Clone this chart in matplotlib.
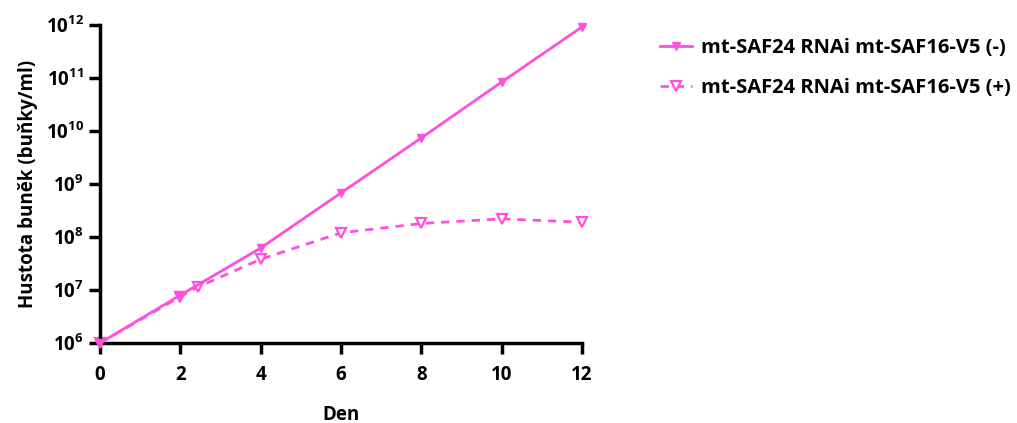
import matplotlib
matplotlib.use("Agg")
import matplotlib.pyplot as plt
from matplotlib.ticker import FixedLocator, NullLocator

plt.rcParams['font.family'] = ['Open Sans', 'DejaVu Sans']
plt.rcParams['mathtext.fontset'] = 'custom'
plt.rcParams['mathtext.bf'] = 'Open Sans:bold'
plt.rcParams['mathtext.rm'] = 'Open Sans'

days_minus = [0, 2, 4, 6, 8, 10, 12]
dens_minus = [1e6, 8e6, 6.2e7, 6.8e8, 7.4e9, 8.4e10, 9.2e11]

days_plus = [0, 2, 2.45, 4, 6, 8, 10, 12]
dens_plus = [1e6, 7.5e6, 1.15e7, 3.8e7, 1.2e8, 1.8e8, 2.2e8, 1.9e8]

labels = ['mt-SAF24 RNAi mt-SAF16-V5 (-)', 'mt-SAF24 RNAi mt-SAF16-V5 (+)']
xticks = [0, 2, 4, 6, 8, 10, 12]
yexps = [6, 7, 8, 9, 10, 11, 12]

color = '#FF4FDF'

fig = plt.figure(figsize=(10.17, 4.23), dpi=100)
ax = fig.add_axes([100/1017, 1 - 343/423, 482/1017, 318/423])

ax.plot(days_minus, dens_minus, '-', color=color, lw=2.0, marker='v', ms=6,
        mfc=color, mec=color, label=labels[0], clip_on=False, zorder=3)
ax.plot(days_plus, dens_plus, '--', color=color, lw=2.0, marker='v', ms=6.5,
        mfc='white', mec=color, mew=1.6, dashes=(3, 2.5), label=labels[1],
        clip_on=False, zorder=2)

ax.set_yscale('log')
ax.set_ylim(1e6, 1e12)
ax.set_xlim(0, 12)
ax.yaxis.set_major_locator(FixedLocator([10.0**e for e in yexps]))
ax.yaxis.set_minor_locator(NullLocator())
ax.set_yticklabels([f'$\\mathbf{{10^{{{e}}}}}$' for e in yexps])
ax.set_xticks(xticks)
ax.set_xticklabels([str(t) for t in xticks])

for s in ['top', 'right']:
    ax.spines[s].set_visible(False)
for s in ['left', 'bottom']:
    ax.spines[s].set_linewidth(2.5)
ax.tick_params(axis='both', which='major', width=2.5, length=8, labelsize=13.5, direction='out')
ax.tick_params(axis='x', pad=8)
for lab in ax.get_xticklabels() + ax.get_yticklabels():
    lab.set_fontweight('bold')

ax.set_xlabel('Den', fontsize=13.5, fontweight='bold', labelpad=14)
ax.set_ylabel('Hustota buněk (buňky/ml)', fontsize=13.5, fontweight='bold', labelpad=6)

leg = fig.legend(loc='upper left', bbox_to_anchor=(642/1017, 1 - 20/423), frameon=False,
                 handlelength=1.6, handletextpad=0.45, labelspacing=1.0,
                 prop={'weight': 'bold', 'size': 14.5})

fig.savefig('out.png', dpi=100)
